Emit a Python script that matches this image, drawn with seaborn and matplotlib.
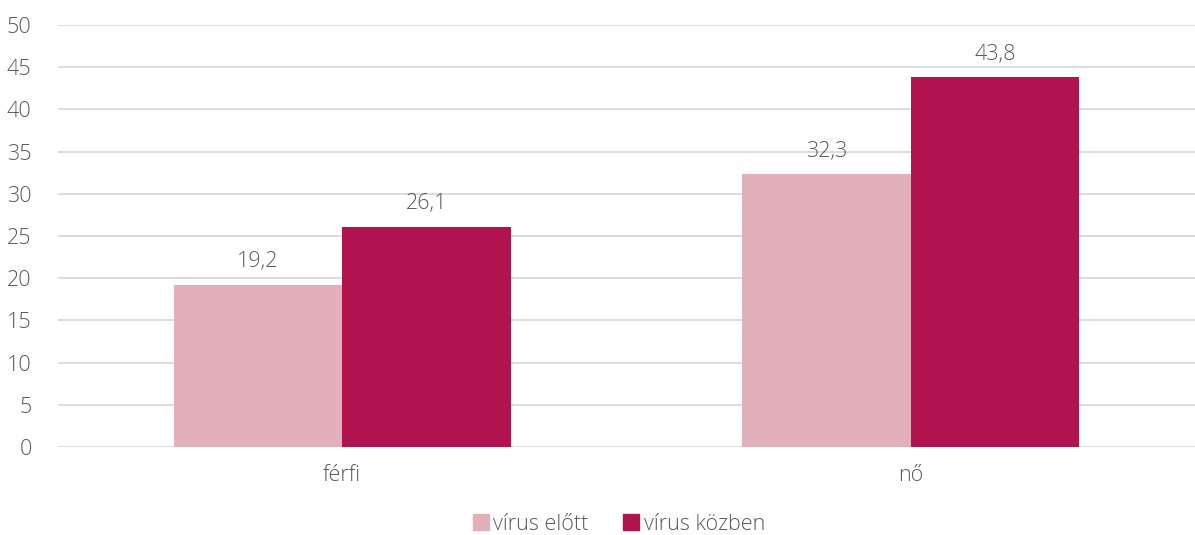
import pandas as pd
import matplotlib.pyplot as plt
import seaborn as sns

# --- Data ---
categories = ["férfi", "nő"]
series_names = ["vírus előtt", "vírus közben"]
before = [19.2, 32.3]
during = [26.1, 43.8]

COLORS = ["#E2B0BA", "#B1134F"]
TEXT = "#595959"
FS = 15.5

df = pd.DataFrame({
    "nem": categories * 2,
    "időszak": [series_names[0]] * 2 + [series_names[1]] * 2,
    "érték": before + during,
})

sns.set_style("white")
plt.rcParams["font.family"] = ["Open Sans", "DejaVu Sans"]
plt.rcParams["font.weight"] = "light"

fig = plt.figure(figsize=(11.95, 5.35), dpi=100)
ax = fig.add_axes([58 / 1195, 1 - 447 / 535, 1 - 58 / 1195, (447 - 25) / 535])

sns.barplot(data=df, x="nem", y="érték", hue="időszak", palette=COLORS,
            width=0.593, saturation=1, linewidth=0, ax=ax, legend=False)

for container in ax.containers:
    ax.bar_label(container, labels=[f"{v:.1f}".replace(".", ",") for v in container.datavalues],
                 padding=9, fontsize=FS, color=TEXT)

ax.set_ylim(0, 50)
ax.set_yticks(range(0, 51, 5))
ax.set_xlim(-0.5, 1.5)
ax.yaxis.grid(True, color="#D9D9D9", linewidth=1.3)
ax.set_axisbelow(True)
for s in ax.spines.values():
    s.set_visible(False)
ax.set_xlabel("")
ax.set_ylabel("")
ax.tick_params(axis="both", length=0, labelsize=FS, labelcolor=TEXT)
ax.tick_params(axis="y", pad=19)
ax.tick_params(axis="x", pad=13)

handles = [plt.Rectangle((0, 0), 1, 1, color=c) for c in COLORS]
fig.legend(handles, series_names, loc="center", bbox_to_anchor=(619 / 1195, 1 - 524 / 535),
           ncol=2, frameon=False, fontsize=FS, labelcolor=TEXT,
           handlelength=0.75, handleheight=0.75, handletextpad=0.2, columnspacing=1.6)

fig.savefig("out.png", dpi=100)
